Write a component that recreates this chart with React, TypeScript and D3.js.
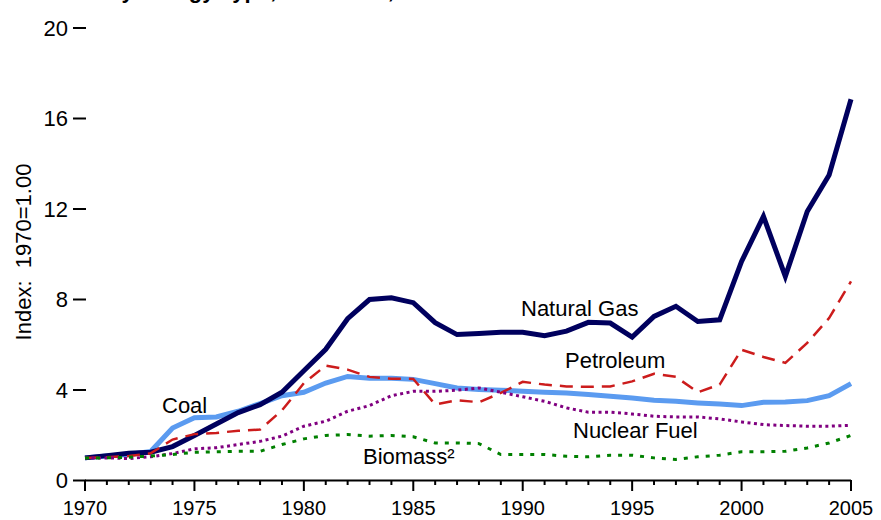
import React, { useEffect } from 'react';
import * as d3 from 'd3';

// years 1970..2005
const years: number[] = d3.range(1970, 2006);

const naturalGas = [
  1.0, 1.1, 1.2, 1.25, 1.5, 1.99, 2.5, 3.0, 3.35, 3.9,
  4.85, 5.8, 7.15, 8.0, 8.08, 7.86, 6.98, 6.45, 6.5, 6.55,
  6.55, 6.4, 6.6, 6.99, 6.96, 6.34, 7.25, 7.7, 7.03, 7.1,
  9.68, 11.67, 9.02, 11.89, 13.5, 16.85,
];
const coal = [
  1.0, 1.08, 1.15, 1.28, 2.32, 2.77, 2.81, 3.06, 3.4, 3.75,
  3.9, 4.31, 4.6, 4.52, 4.52, 4.47, 4.28, 4.09, 4.02, 3.99,
  3.95, 3.9, 3.87, 3.8, 3.72, 3.65, 3.55, 3.5, 3.43, 3.38,
  3.31, 3.46, 3.47, 3.53, 3.75, 4.28,
];
const petroleum = [
  1.0, 1.03, 1.08, 1.2, 1.81, 2.05, 2.1, 2.2, 2.25, 3.1,
  4.3, 5.08, 4.9, 4.58, 4.5, 4.49, 3.36, 3.55, 3.46, 3.87,
  4.36, 4.24, 4.16, 4.14, 4.16, 4.38, 4.72, 4.58, 3.9, 4.24,
  5.78, 5.46, 5.2, 6.08, 7.18, 8.8,
];
const nuclearFuel = [
  1.0, 1.0, 0.97, 1.05, 1.19, 1.4, 1.45, 1.59, 1.73, 1.96,
  2.4, 2.62, 3.06, 3.31, 3.75, 3.94, 3.94, 3.99, 4.09, 3.9,
  3.7, 3.5, 3.21, 3.02, 3.02, 2.94, 2.84, 2.81, 2.81, 2.72,
  2.59, 2.47, 2.43, 2.4, 2.4, 2.44,
];
const biomass = [
  1.0, 1.0, 1.03, 1.08, 1.15, 1.25, 1.27, 1.29, 1.29, 1.59,
  1.84, 1.99, 2.03, 1.96, 1.99, 1.93, 1.66, 1.66, 1.63, 1.15,
  1.15, 1.15, 1.07, 1.05, 1.12, 1.12, 1.0, 0.93, 1.05, 1.12,
  1.27, 1.27, 1.29, 1.44, 1.66, 1.99,
];

const yTicks = [0, 4, 8, 12, 16, 20];
const xLabelYears = [1970, 1975, 1980, 1985, 1990, 1995, 2000, 2005];

// draw order: bottom first
const series = [
  { name: 'Coal', values: coal, color: '#5b9bf0', width: 5, dash: null, label: [162, 413] },
  { name: 'Natural Gas', values: naturalGas, color: '#00005e', width: 5, dash: null, label: [521, 316] },
  { name: 'Petroleum', values: petroleum, color: '#cc1c1c', width: 2.5, dash: '13,8', label: [565, 368] },
  { name: 'Nuclear Fuel', values: nuclearFuel, color: '#800080', width: 3, dash: '3,3.5', label: [573, 438] },
  { name: 'Biomass²', values: biomass, color: '#008000', width: 3, dash: '4,7', label: [363, 464] },
];

const W = 881;
const H = 520;
const FONT = '"Liberation Sans", Arial, Helvetica, sans-serif';

export default function App() {
  useEffect(() => {
    document.body.style.margin = '0';
  }, []);

  const x = d3.scaleLinear().domain([1970, 2005]).range([85, 851]);
  const y = d3.scaleLinear().domain([0, 20]).range([480.5, 28]);

  const line = d3.line<number>()
    .x((d, i) => x(years[i]))
    .y(d => y(d))
    .curve(d3.curveLinear);

  return (
    <svg width={W} height={H} style={{ display: 'block', fontFamily: FONT }}>
      <rect width={W} height={H} fill="#fff" />

      {/* title, mostly above the visible area */}
      <text x={103} y={-2} fontSize={22} fontWeight="bold" textAnchor="end" fill="#000">Cost Index</text>
      <text x={108} y={-2} fontSize={22} fontWeight="bold" fill="#000">by Energy Type, 1970-2005, Nominal</text>

      {/* y axis ticks (no axis line) */}
      {yTicks.map(t => (
        <g key={t}>
          <line x1={73} x2={86} y1={y(t)} y2={y(t)} stroke="#000" strokeWidth={2} />
          <text x={68} y={y(t)} dy="0.36em" fontSize={22} textAnchor="end" fill="#000">{t}</text>
        </g>
      ))}

      <text
        transform={`translate(31,${252}) rotate(-90)`}
        fontSize={22}
        textAnchor="middle"
        fill="#000"
        style={{ whiteSpace: 'pre' }}
      >
        {'Index:  1970=1.00'}
      </text>

      {/* x axis */}
      <line x1={x(1970)} x2={x(2005)} y1={480.5} y2={480.5} stroke="#000" strokeWidth={2} />
      {years.map(yr => (
        <line
          key={yr}
          x1={x(yr)}
          x2={x(yr)}
          y1={480}
          y2={yr % 5 === 0 ? 491 : 485}
          stroke="#000"
          strokeWidth={2}
        />
      ))}
      {xLabelYears.map(yr => (
        <text key={yr} x={x(yr)} y={515} fontSize={20} textAnchor="middle" fill="#000">{yr}</text>
      ))}

      {/* series */}
      {series.map(s => (
        <path
          key={s.name}
          d={line(s.values) || ''}
          fill="none"
          stroke={s.color}
          strokeWidth={s.width}
          strokeDasharray={s.dash || undefined}
          strokeLinejoin="miter"
        />
      ))}

      {series.map(s => (
        <text key={s.name + '-l'} x={s.label[0]} y={s.label[1]} fontSize={22} fill="#000">{s.name}</text>
      ))}
    </svg>
  );
}
